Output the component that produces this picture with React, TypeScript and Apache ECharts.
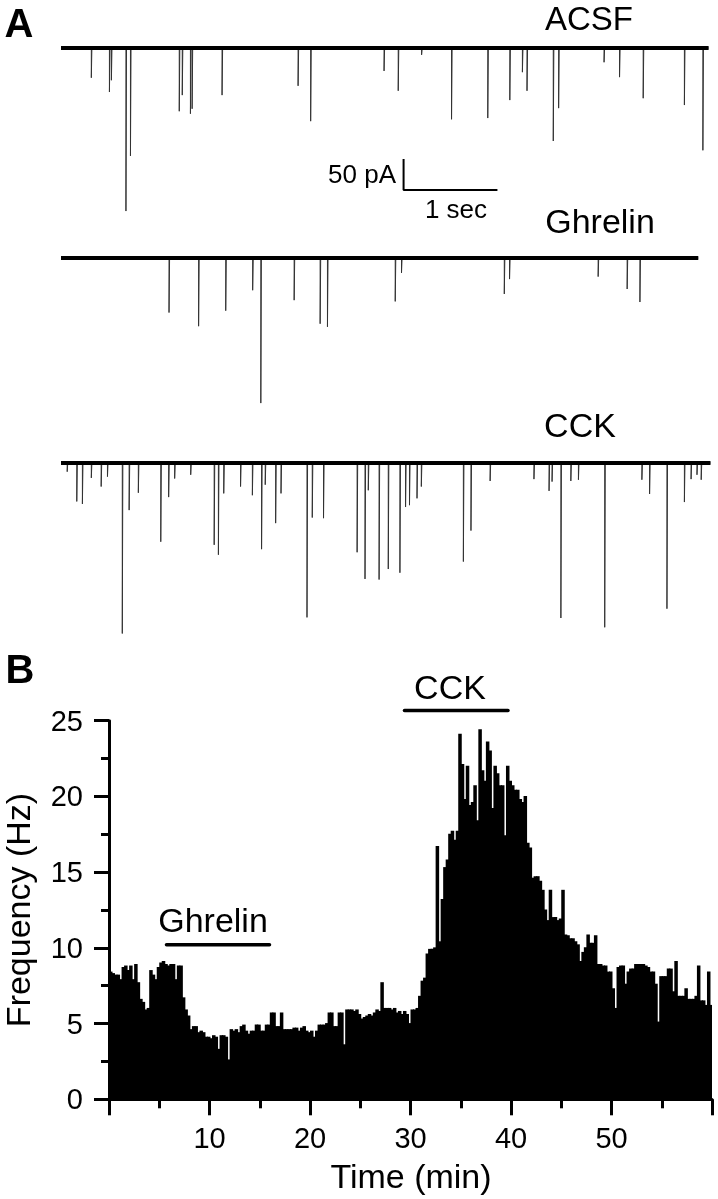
import React, { useEffect, useRef } from "react";
import * as echarts from "echarts";

// ---------- Panel A: spontaneous events, [time (s), amplitude (pA)] ----------
const acsfEvents: [number, number][] = [
  [0.323, -48], [0.516, -71], [0.537, -52], [0.692, -263], [0.74, -174],
  [1.26, -102], [1.292, -76], [1.379, -106], [1.397, -98], [1.716, -76],
  [2.526, -61], [2.66, -118], [3.442, -37], [3.593, -69], [3.842, -11],
  [4.161, -115], [4.547, -113], [4.782, -84], [4.916, -39], [4.965, -69],
  [5.245, -150], [5.302, -97], [5.786, -23], [5.951, -47], [6.203, -81],
  [6.642, -92], [6.839, -165],
];
const ghrelinEvents: [number, number][] = [
  [1.151, -88], [1.466, -110], [1.755, -85], [2.042, -52], [2.129, -234],
  [2.484, -68], [2.761, -106], [2.839, -111], [3.561, -70], [3.628, -24],
  [4.723, -58], [4.779, -34], [5.723, -30], [6.032, -50], [6.168, -71],
];
const cckEvents: [number, number][] = [
  [0.066, -14], [0.168, -62], [0.228, -66], [0.323, -24], [0.428, -38],
  [0.495, -22], [0.653, -275], [0.726, -76], [0.824, -48], [1.063, -127],
  [1.147, -55], [1.211, -25], [1.382, -19], [1.632, -132], [1.677, -148],
  [1.734, -49], [1.913, -38], [2.039, -52], [2.137, -139], [2.176, -35],
  [2.287, -97], [2.344, -49], [2.621, -249], [2.677, -88], [2.797, -89],
  [3.155, -144], [3.239, -187], [3.274, -44], [3.389, -188], [3.487, -171],
  [3.611, -177], [3.671, -71], [3.713, -68], [3.793, -57], [3.839, -38],
  [4.287, -159], [4.368, -109], [4.572, -29], [5.039, -26], [5.2, -45],
  [5.232, -30], [5.326, -250], [5.432, -29], [5.513, -27], [5.793, -265],
  [6.189, -27], [6.271, -50], [6.456, -235], [6.642, -63], [6.713, -26],
  [6.776, -19], [6.821, -27],
];
const traceEnds = { acsf: 6.9, ghrelin: 6.79, cck: 6.92 };
const traceLabels = ["ACSF", "Ghrelin", "CCK"];
// scale bar: 50 pA, 1 sec
const scaleBarPA = 50;
const scaleBarSec = 1;

// ---------- Panel B: event frequency (Hz), 0.25-min bins from 0 to 60 min ----------
const BIN_MIN = 0.25;
const freqHz = [
  8.4, 8.3, 8.2, 8.2, 7.9, 8.7, 8.8, 8.5, 8.8, 7.9,
  8.9, 7.7, 6.6, 6.4, 5.9, 6.0, 8.5, 8.2, 7.9, 8.7,
  9.0, 9.1, 8.9, 8.8, 8.9, 8.9, 7.9, 8.8, 8.8, 6.7,
  5.9, 5.5, 4.6, 4.8, 4.8, 4.4, 4.5, 4.4, 4.1, 4.1,
  4.0, 4.2, 4.1, 3.3, 4.2, 4.2, 4.1, 2.6, 4.6, 4.5,
  4.6, 4.4, 4.8, 4.9, 4.5, 4.3, 4.5, 4.5, 4.9, 4.9,
  4.5, 4.5, 4.9, 4.9, 5.7, 5.7, 4.8, 4.8, 5.7, 4.6,
  4.6, 4.6, 4.6, 4.7, 4.7, 4.5, 4.7, 4.8, 4.5, 4.4,
  4.5, 4.1, 4.5, 4.9, 4.9, 4.9, 5.0, 5.7, 5.7, 4.8,
  4.8, 5.7, 5.7, 3.6, 5.9, 5.9, 5.9, 5.8, 5.9, 5.6,
  5.3, 5.4, 5.5, 5.6, 5.5, 5.7, 5.9, 5.8, 7.7, 6.0,
  6.0, 6.0, 5.9, 6.0, 5.7, 5.8, 5.6, 5.8, 5.6, 5.0,
  5.9, 5.9, 6.0, 6.8, 7.8, 8.0, 9.6, 9.9, 9.9, 10.0,
  16.7, 10.4, 13.2, 15.3, 15.8, 17.5, 17.7, 17.1, 17.7, 24.1,
  22.1, 19.8, 22.0, 19.4, 19.6, 20.7, 18.4, 24.4, 21.7, 21.0,
  23.6, 23.0, 19.2, 22.0, 21.5, 20.7, 20.7, 17.4, 22.0, 21.0,
  20.7, 20.4, 20.4, 19.8, 19.6, 20.0, 16.9, 16.6, 14.6, 14.7,
  14.7, 14.4, 13.8, 12.5, 11.8, 13.8, 12.0, 12.0, 11.8, 11.9,
  13.8, 10.85, 10.8, 10.6, 10.6, 10.4, 10.2, 9.1, 9.7, 10.0,
  10.85, 10.3, 10.3, 10.8, 8.9, 8.9, 8.8, 8.8, 8.4, 8.4,
  7.3, 6.0, 8.7, 8.8, 8.8, 7.6, 8.4, 8.6, 8.6, 8.9,
  8.9, 8.9, 8.9, 8.8, 8.7, 8.4, 8.4, 7.6, 5.1, 8.1,
  8.1, 8.1, 8.6, 8.6, 7.1, 9.1, 6.8, 6.8, 6.8, 7.3,
  6.6, 6.6, 6.6, 6.8, 8.8, 6.5, 6.5, 6.2, 8.4, 6.2,
];
// drug application periods (min) and bar height (Hz)
const ghrelinPeriod = [5.72, 15.97];
const ghrelinBarY = 10.2;
const cckPeriod = [29.4, 39.7];
const cckBarY = 25.67;
const xTicksB = [0, 60, 10];
const yTicksB = [0, 25, 5];

const FONT = "'Liberation Sans', Arial, Helvetica, sans-serif";

function spikeTrace(events: [number, number][], end: number) {
  const pts: number[][] = [[0, 0]];
  for (const [t, a] of events) {
    pts.push([t, 0], [t, a], [t + 0.006, 0]);
  }
  pts.push([end, 0]);
  return pts;
}

export default function App() {
  const ref = useRef<HTMLDivElement>(null);
  useEffect(() => {
    if (!ref.current) return;
    const chart = echarts.init(ref.current, undefined, { renderer: "svg" });
    const traceTops = [35.6, 245.6, 450.6];
    const grids: any[] = traceTops.map((top) => ({ left: 61, top, width: 665, height: 198.4 }));
    grids.push({ left: 109, top: 720.7, width: 603, height: 378.6 });

    const hiddenX = [0, 1, 2].map((i) => ({ type: "value", gridIndex: i, min: 0, max: 7, show: false }));
    const hiddenY = [0, 1, 2].map((i) => ({ type: "value", gridIndex: i, min: -300, max: 20, show: false }));

    const axisStyle = { color: "#000", width: 3 };
    const traces = [
      { ev: acsfEvents, end: traceEnds.acsf },
      { ev: ghrelinEvents, end: traceEnds.ghrelin },
      { ev: cckEvents, end: traceEnds.cck },
    ];
    const series: any[] = [];
    traces.forEach((tr, i) => {
      series.push({
        type: "line", xAxisIndex: i, yAxisIndex: i, symbol: "none", silent: true,
        data: spikeTrace(tr.ev, tr.end),
        lineStyle: { color: "#333", width: 1 },
      });
      series.push({
        type: "line", xAxisIndex: i, yAxisIndex: i, symbol: "none", silent: true,
        data: [[0, 0], [tr.end, 0]],
        lineStyle: { color: "#000", width: 4 },
      });
    });
    // scale bar in ACSF coordinates
    const sbX = 3.65, sbY = -179;
    series.push({
      type: "line", xAxisIndex: 0, yAxisIndex: 0, symbol: "none", silent: true,
      data: [[sbX, sbY], [sbX, sbY - scaleBarPA], [sbX + scaleBarSec, sbY - scaleBarPA]],
      lineStyle: { color: "#000", width: 2 },
    });
    // histogram
    series.push({
      type: "custom", xAxisIndex: 3, yAxisIndex: 3, silent: true,
      data: freqHz.map((v, i) => [i * BIN_MIN, v]),
      renderItem: (params: any, api: any) => {
        const x0 = api.value(0);
        const v = api.value(1);
        const p0 = api.coord([x0, v]);
        const p1 = api.coord([x0 + BIN_MIN, 0]);
        const last = params.dataIndex === freqHz.length - 1;
        return {
          type: "rect",
          shape: { x: p0[0], y: p0[1] - 0.5, width: p1[0] - p0[0] + (last ? 0 : 1), height: p1[1] - p0[1] + 0.5 },
          style: { fill: "#000" },
        };
      },
    });
    series.push({
      type: "line", xAxisIndex: 3, yAxisIndex: 3, symbol: "none", silent: true, clip: false,
      data: [[ghrelinPeriod[0], ghrelinBarY], [ghrelinPeriod[1], ghrelinBarY]],
      lineStyle: { color: "#000", width: 3.5, cap: "round" },
    });
    series.push({
      type: "line", xAxisIndex: 3, yAxisIndex: 3, symbol: "none", silent: true, clip: false,
      data: [[cckPeriod[0], cckBarY], [cckPeriod[1], cckBarY]],
      lineStyle: { color: "#000", width: 3.5, cap: "round" },
    });

    const txt = (text: string, x: number, y: number, size: number, align = "center", weight = "normal", rotation = 0) => ({
      type: "text", x, y, rotation, silent: true,
      style: {
        text, fill: "#000", font: `${weight} ${size}px ${FONT}`,
        textAlign: align, textVerticalAlign: "middle",
      },
    });

    chart.setOption({
      animation: false,
      grid: grids,
      xAxis: [
        ...hiddenX,
        {
          type: "value", gridIndex: 3, min: xTicksB[0], max: xTicksB[1], interval: xTicksB[2],
          axisLine: { onZero: false, lineStyle: axisStyle },
          axisTick: { length: 16, lineStyle: axisStyle },
          minorTick: { show: true, splitNumber: 2, length: 9, lineStyle: axisStyle },
          splitLine: { show: false },
          axisLabel: {
            color: "#000", fontSize: 29, fontFamily: FONT, margin: 24,
            formatter: (v: number) => (v === xTicksB[0] || v === xTicksB[1] ? "" : String(v)),
          },
        },
      ],
      yAxis: [
        ...hiddenY,
        {
          type: "value", gridIndex: 3, min: yTicksB[0], max: yTicksB[1], interval: yTicksB[2],
          axisLine: { onZero: false, lineStyle: axisStyle },
          axisTick: { length: 15, lineStyle: axisStyle },
          minorTick: { show: true, splitNumber: 2, length: 8, lineStyle: axisStyle },
          splitLine: { show: false },
          axisLabel: { color: "#000", fontSize: 29, fontFamily: FONT, margin: 26 },
        },
      ],
      series,
      graphic: [
        txt("A", 19, 23, 40, "center", "bold"),
        txt("B", 20, 669, 40, "center", "bold"),
        txt(traceLabels[0], 589, 18, 33),
        txt(traceLabels[1], 600, 221, 34),
        txt(traceLabels[2], 580, 425, 34),
        txt("50 pA", 396, 174, 26, "right"),
        txt("1 sec", 456, 209, 26),
        txt("Ghrelin", 213, 920, 34),
        txt("CCK", 450, 687, 34),
        txt("Time (min)", 411, 1176, 34),
        txt("Frequency (Hz)", 18, 910, 34, "center", "normal", Math.PI / 2),
      ],
    });
    return () => chart.dispose();
  }, []);
  return <div ref={ref} style={{ position: "fixed", left: 0, top: 0, width: 718, height: 1199 }} />;
}
